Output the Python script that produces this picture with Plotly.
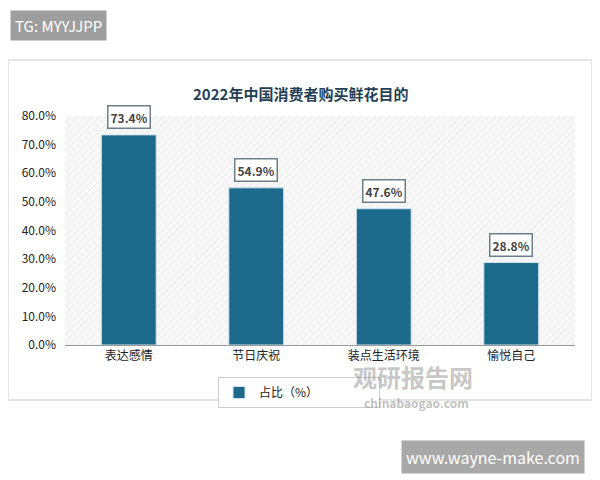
import plotly.graph_objs as go

categories = ['表达感情', '节日庆祝', '装点生活环境', '愉悦自己']
values = [73.4, 54.9, 47.6, 28.8]
y_max = 80
tick_vals = [0, 10, 20, 30, 40, 50, 60, 70, 80]

W, H = 600, 480
OFF = 8  # page body margin
L, T = 65 - OFF, 116 - OFF
pw, ph = 510, 229
R, B = W - L - pw, H - T - ph


def px(x):
    return (x - OFF - L) / pw


def py(y):
    return (T + ph - (y - OFF)) / ph


fig = go.Figure()
# hatched plot background
fig.add_trace(go.Bar(
    x=categories, y=[y_max] * len(categories), width=1,
    marker=dict(color='white', line_width=0,
                pattern=dict(shape='/', fgcolor='#d6d6d6', bgcolor='#f7f7f7', size=5, solidity=0.15)),
    showlegend=False, hoverinfo='skip',
))
fig.add_trace(go.Bar(
    x=categories, y=values, width=0.43, name='占比（%）',
    marker=dict(color='#1d6a8d', line=dict(color='#cfe3ee', width=1)),
))

for c, v in zip(categories, values):
    fig.add_annotation(x=c, y=v, text='<b>%.1f%%</b>' % v, yshift=18, showarrow=False,
                       font=dict(size=12, color='#444'), bgcolor='white',
                       bordercolor='#6d7f88', borderwidth=1.5, borderpad=2)

fig.add_shape(type='rect', xref='paper', yref='paper', x0=px(8), x1=px(592), y0=py(400), y1=py(60),
              line=dict(color='#e4e4e4', width=2), fillcolor='white', layer='below')

fig.add_annotation(xref='paper', yref='paper', x=px(300), y=py(93), yanchor='middle',
                   text='<b>2022年中国消费者购买鲜花目的</b>',
                   showarrow=False, font=dict(size=15, color='#243f55', family='Noto Sans CJK SC'))
fig.add_annotation(xref='paper', yref='paper', x=px(10), y=py(10), xanchor='left', yanchor='top',
                   text='TG: MYYJJPP', showarrow=False, font=dict(size=15, color='white'),
                   bgcolor='#9e9e9e', borderpad=4)
fig.add_annotation(xref='paper', yref='paper', x=px(585), y=py(440), xanchor='right', yanchor='top',
                   text='www.wayne-make.com', showarrow=False, font=dict(size=16, color='white'),
                   bgcolor='#a8a8a8', borderpad=4)
fig.add_annotation(xref='paper', yref='paper', x=px(475), y=py(376), yanchor='middle', text='<b>观研报告网</b>',
                   showarrow=False, font=dict(size=24, color='rgba(130,130,130,0.45)'))
fig.add_annotation(xref='paper', yref='paper', x=px(471), y=py(402), yanchor='middle', text='<b>chinabaogao.com</b>',
                   showarrow=False, font=dict(size=12, color='rgba(130,130,130,0.5)'))

fig.update_layout(
    width=W, height=H, margin=dict(l=L, r=R, t=T, b=B),
    paper_bgcolor='white', plot_bgcolor='white', barmode='overlay',
    font=dict(family='Noto Sans CJK SC', size=12, color='#222'),
    legend=dict(x=px(218), y=py(377), xanchor='left', yanchor='top', orientation='h',
                bordercolor='#cfcfcf', borderwidth=1, bgcolor='white', entrywidth=115,
                itemwidth=30, font=dict(size=12)),
    xaxis=dict(range=[-0.5, 3.5], showgrid=False, linecolor='#9a9a9a', ticks='', tickfont=dict(size=12)),
    yaxis=dict(range=[0, y_max], tickvals=tick_vals, ticktext=['%.1f%%' % t for t in tick_vals],
               showgrid=False, zeroline=False, tickfont=dict(size=12), ticklabelstandoff=8),
)

fig.write_html('out.html')
